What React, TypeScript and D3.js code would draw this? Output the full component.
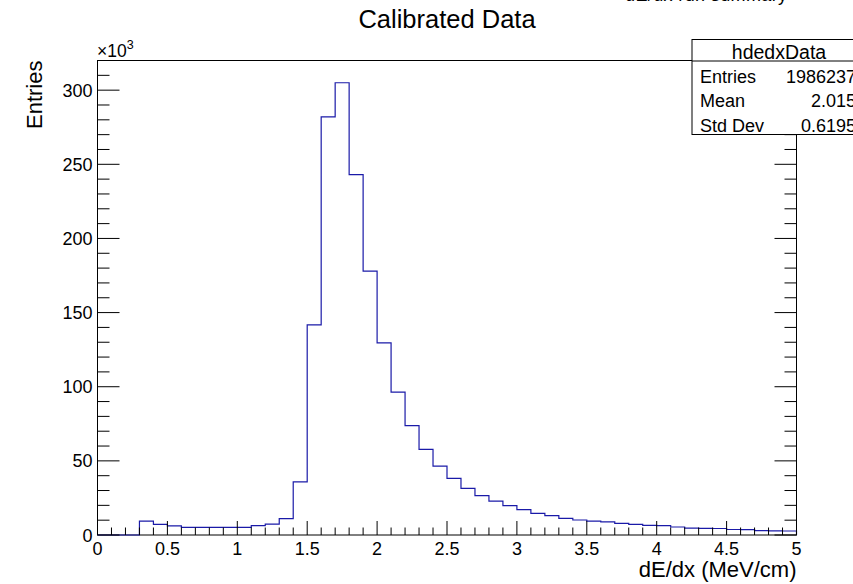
import React from "react";
import * as d3 from "d3";

// ---- data ----
const binEdgesStart = 0;
const binWidth = 0.1;
// bin contents in thousands of entries, bins 0.0-0.1 ... 4.9-5.0
const binValues = [
  0, 0, 0, 9.4, 7.2, 6.1, 5.2, 5.2, 5.2, 5.2,
  5.2, 6.3, 7.4, 11.0, 35.8, 141.7, 282, 305, 243, 178,
  129.6, 96.4, 73.7, 57.8, 46.5, 38.2, 31.5, 26.5, 22.9, 19.8,
  17.1, 14.6, 13.0, 11.2, 10.1, 9.4, 8.8, 7.9, 7.2, 6.5,
  6.3, 5.4, 4.6, 4.5, 4.4, 3.7, 3.6, 2.9, 2.8, 2.7,
];
const xMajorTicks = [0, 0.5, 1, 1.5, 2, 2.5, 3, 3.5, 4, 4.5, 5];
const xTickLabels = ["0", "0.5", "1", "1.5", "2", "2.5", "3", "3.5", "4", "4.5", "5"];
const yMajorTicks = [0, 50, 100, 150, 200, 250, 300];
const statsNames = ["Entries", "Mean", "Std Dev"];
const statsValues = ["1986237", "2.015", "0.6195"];
const histName = "hdedxData";
const title = "Calibrated Data";

const FONT = "'Liberation Sans', Arial, Helvetica, sans-serif";

export default function App() {
  const W = 853, H = 584;
  const left = 97.5, right = 796.5, top = 60.5, bottom = 535;
  const x = d3.scaleLinear().domain([0, 5]).range([left, right]);
  const y = d3.scaleLinear().domain([0, 320]).range([bottom, top]);

  // histogram outline (step)
  const pts: [number, number][] = [];
  pts.push([binEdgesStart, 0]);
  binValues.forEach((v, i) => {
    const x0 = binEdgesStart + i * binWidth;
    pts.push([x0, v]);
    pts.push([x0 + binWidth, v]);
  });
  pts.push([binEdgesStart + binValues.length * binWidth, 0]);
  const line = d3.line<[number, number]>().x((d) => x(d[0])).y((d) => y(d[1]));

  const xMinor = d3.range(0, 50.5, 1).map((i) => i / 10);
  const yMinor = d3.range(0, 321, 10);

  const boxL = 692, boxT = 39.5, boxSep = 61, boxB = 134.5, boxR = 866;

  return (
    <svg width={W} height={H} style={{ position: "absolute", left: 0, top: 0, background: "#fff" }}>
      <rect x={0} y={0} width={W} height={H} fill="#fff" />
      {/* clipped top text (only its lowest pixels are visible) */}
      <text x={625} y={1} fontFamily={FONT} fontSize={18} textLength={162} fill="#000">dE/dx run summary</text>
      {/* title */}
      <text x={447} y={28} textAnchor="middle" fontFamily={FONT} fontSize={25.5} fill="#000">{title}</text>

      {/* frame */}
      <rect x={left} y={top} width={right - left} height={bottom - top} fill="none" stroke="#000" strokeWidth={1} />

      {/* histogram */}
      <path d={line(pts) || ""} fill="none" stroke="#1a1aa8" strokeWidth={1.2} />

      {/* x ticks */}
      {xMinor.map((v, i) => {
        const major = i % 5 === 0;
        return (
          <line key={"xt" + i} x1={x(v)} x2={x(v)} y1={bottom} y2={bottom - (major ? 14 : 7.5)} stroke="#000" strokeWidth={1} />
        );
      })}
      {xMajorTicks.map((v, i) => (
        <text key={"xl" + i} x={x(v)} y={555} textAnchor="middle" fontFamily={FONT} fontSize={18} fill="#000">{xTickLabels[i]}</text>
      ))}

      {/* y ticks left and right */}
      {yMinor.map((v, i) => {
        const major = v % 50 === 0;
        const len = major ? 22 : 12;
        return (
          <g key={"yt" + i}>
            <line x1={left} x2={left + len} y1={y(v)} y2={y(v)} stroke="#000" strokeWidth={1} />
            <line x1={right} x2={right - len} y1={y(v)} y2={y(v)} stroke="#000" strokeWidth={1} />
          </g>
        );
      })}
      {yMajorTicks.map((v, i) => (
        <text key={"yl" + i} x={92.5} y={y(v) + 6.5} textAnchor="end" fontFamily={FONT} fontSize={18} fill="#000">{String(v)}</text>
      ))}
      <text x={97} y={56.5} fontFamily={FONT} fontSize={17.5} fill="#000">
        ×10<tspan dy={-8} fontSize={12.5}>3</tspan>
      </text>

      {/* axis titles */}
      <text x={right} y={576.5} textAnchor="end" fontFamily={FONT} fontSize={22} fill="#000">dE/dx (MeV/cm)</text>
      <text transform={`translate(41.5, ${top}) rotate(-90)`} textAnchor="end" fontFamily={FONT} fontSize={22} fill="#000">Entries</text>

      {/* stats box */}
      <rect x={boxL} y={boxT} width={boxR - boxL} height={boxB - boxT} fill="#fff" stroke="#000" strokeWidth={1} />
      <line x1={boxL} x2={boxR} y1={boxSep} y2={boxSep} stroke="#000" strokeWidth={1} />
      <text x={(boxL + boxR) / 2} y={58.5} textAnchor="middle" fontFamily={FONT} fontSize={19.5} fill="#000">{histName}</text>
      {statsNames.map((n, i) => (
        <g key={"st" + i}>
          <text x={700} y={82.5 + i * 24.8} fontFamily={FONT} fontSize={18} fill="#000">{n}</text>
          <text x={856} y={82.5 + i * 24.8} textAnchor="end" fontFamily={FONT} fontSize={18} fill="#000">{statsValues[i]}</text>
        </g>
      ))}
    </svg>
  );
}
